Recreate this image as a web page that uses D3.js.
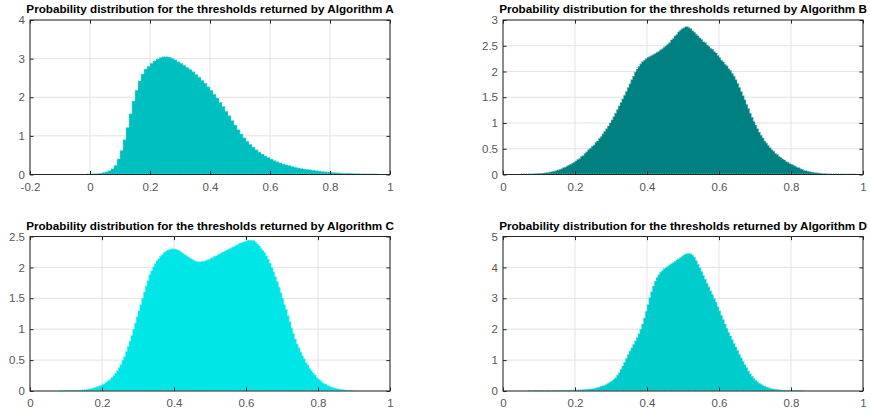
<!DOCTYPE html>
<html>
<head>
<meta charset="utf-8">
<script src="https://cdn.jsdelivr.net/npm/d3@7"></script>
<style>
  body { margin: 0; background: #fff; }
  text { font-family: "Liberation Sans", Arial, Helvetica, sans-serif; }
</style>
</head>
<body>
<div id="chart"></div>
<script>
// histogram data (first left edge + bin width per panel)
const titles = [
  "Probability distribution for the thresholds returned by Algorithm A",
  "Probability distribution for the thresholds returned by Algorithm B",
  "Probability distribution for the thresholds returned by Algorithm C",
  "Probability distribution for the thresholds returned by Algorithm D"
];

const startA = -0.01, binA = 0.01;
const densityA = [
  0.01, 0.01, 0.02, 0.02, 0.03, 0.05, 0.07, 0.10, 0.15, 0.24,
  0.40, 0.62, 0.90, 1.22, 1.57, 1.90, 2.18, 2.42, 2.60, 2.73,
  2.80, 2.88, 2.94, 2.99, 3.03, 3.05, 3.05, 3.04, 3.01, 2.97,
  2.92, 2.88, 2.83, 2.77, 2.72, 2.66, 2.59, 2.52, 2.44, 2.36,
  2.27, 2.18, 2.08, 1.98, 1.87, 1.76, 1.64, 1.52, 1.40, 1.28,
  1.16, 1.05, 0.95, 0.86, 0.78, 0.71, 0.64, 0.58, 0.53, 0.48,
  0.44, 0.40, 0.36, 0.33, 0.30, 0.27, 0.25, 0.23, 0.21, 0.19,
  0.17, 0.155, 0.14, 0.13, 0.12, 0.11, 0.10, 0.09, 0.08, 0.07,
  0.065, 0.06, 0.05, 0.045, 0.04, 0.035, 0.03, 0.03, 0.025, 0.02,
  0.02, 0.015, 0.015, 0.01, 0.01, 0.01, 0.01
];

const startB = 0.05, binB = 0.005;
const densityB = [
  0.004, 0.005, 0.007, 0.008, 0.009, 0.011, 0.012, 0.013, 0.015, 0.017,
  0.018, 0.022, 0.027, 0.032, 0.037, 0.043, 0.05, 0.058, 0.065, 0.075,
  0.085, 0.095, 0.11, 0.13, 0.14, 0.16, 0.18, 0.20, 0.22, 0.24,
  0.26, 0.29, 0.31, 0.35, 0.37, 0.41, 0.44, 0.48, 0.51, 0.55,
  0.57, 0.62, 0.65, 0.70, 0.74, 0.79, 0.84, 0.89, 0.94, 1.00,
  1.06, 1.12, 1.19, 1.26, 1.33, 1.40, 1.47, 1.54, 1.61, 1.69,
  1.76, 1.84, 1.91, 1.99, 2.05, 2.10, 2.15, 2.19, 2.22, 2.25,
  2.27, 2.29, 2.31, 2.33, 2.35, 2.37, 2.39, 2.42, 2.44, 2.47,
  2.50, 2.53, 2.56, 2.61, 2.64, 2.69, 2.72, 2.77, 2.80, 2.83,
  2.85, 2.87, 2.87, 2.85, 2.83, 2.79, 2.76, 2.72, 2.69, 2.65,
  2.62, 2.58, 2.56, 2.52, 2.49, 2.45, 2.43, 2.39, 2.36, 2.31,
  2.27, 2.22, 2.19, 2.14, 2.11, 2.06, 2.02, 1.96, 1.91, 1.84,
  1.77, 1.69, 1.61, 1.53, 1.45, 1.36, 1.28, 1.19, 1.11, 1.03,
  0.96, 0.89, 0.82, 0.76, 0.71, 0.65, 0.61, 0.56, 0.52, 0.48,
  0.45, 0.41, 0.39, 0.35, 0.33, 0.30, 0.28, 0.25, 0.24, 0.21,
  0.20, 0.18, 0.16, 0.14, 0.13, 0.11, 0.10, 0.08, 0.075, 0.065,
  0.055, 0.048, 0.042, 0.036, 0.032, 0.027, 0.023, 0.019, 0.016, 0.014,
  0.012, 0.01, 0.009, 0.008, 0.007, 0.006, 0.005, 0.005, 0.004, 0.004,
  0.003, 0.003, 0.003, 0.002, 0.002, 0.002
];

const startC = 0.08, binC = 0.005;
const densityC = [
  0.003, 0.003, 0.004, 0.004,
  0.005, 0.005, 0.006, 0.007, 0.009, 0.010, 0.012, 0.014, 0.016, 0.019,
  0.022, 0.026, 0.031, 0.037, 0.044, 0.052, 0.062, 0.072, 0.083, 0.095,
  0.11, 0.125, 0.145, 0.17, 0.19, 0.22, 0.25, 0.29, 0.33, 0.38,
  0.43, 0.50, 0.56, 0.64, 0.72, 0.81, 0.90, 1.00, 1.10, 1.20,
  1.30, 1.40, 1.50, 1.60, 1.70, 1.79, 1.88, 1.94, 2.01, 2.06,
  2.11, 2.14, 2.18, 2.21, 2.24, 2.26, 2.28, 2.29, 2.30, 2.30,
  2.30, 2.29, 2.28, 2.26, 2.24, 2.22, 2.20, 2.18, 2.16, 2.14,
  2.13, 2.11, 2.10, 2.09, 2.09, 2.10, 2.10, 2.11, 2.12, 2.13,
  2.15, 2.16, 2.18, 2.19, 2.21, 2.22, 2.24, 2.25, 2.27, 2.28,
  2.30, 2.31, 2.33, 2.34, 2.36, 2.37, 2.39, 2.40, 2.41, 2.42,
  2.43, 2.44, 2.44, 2.44, 2.43, 2.41, 2.38, 2.35, 2.31, 2.27,
  2.24, 2.19, 2.13, 2.07, 2.00, 1.93, 1.85, 1.77, 1.68, 1.59,
  1.50, 1.40, 1.32, 1.22, 1.12, 1.02, 0.93, 0.84, 0.76, 0.70,
  0.63, 0.57, 0.52, 0.46, 0.42, 0.37, 0.33, 0.29, 0.26, 0.22,
  0.19, 0.17, 0.14, 0.12, 0.11, 0.09, 0.08, 0.065, 0.055, 0.046,
  0.04, 0.034, 0.028, 0.024, 0.019, 0.016, 0.013, 0.01, 0.008, 0.006,
  0.004
];

const startD = 0.07, binD = 0.005;
const densityD = [
  0.003, 0.003, 0.004, 0.004, 0.005, 0.005,
  0.006, 0.006, 0.007, 0.007, 0.008, 0.008, 0.009, 0.010, 0.011, 0.012,
  0.013, 0.014, 0.015, 0.017, 0.019, 0.021, 0.023, 0.025, 0.028, 0.031,
  0.034, 0.036, 0.039, 0.042, 0.047, 0.052, 0.057, 0.062, 0.068, 0.075,
  0.083, 0.095, 0.11, 0.13, 0.15, 0.17, 0.19, 0.22, 0.25, 0.29,
  0.33, 0.38, 0.43, 0.51, 0.59, 0.70, 0.81, 0.93, 1.05, 1.18,
  1.30, 1.40, 1.51, 1.62, 1.73, 1.86, 2.00, 2.17, 2.36, 2.58,
  2.80, 3.02, 3.22, 3.40, 3.55, 3.67, 3.76, 3.84, 3.90, 3.96,
  4.00, 4.04, 4.08, 4.12, 4.16, 4.20, 4.24, 4.28, 4.32, 4.36,
  4.40, 4.43, 4.45, 4.45, 4.44, 4.40, 4.33, 4.22, 4.10, 3.99,
  3.87, 3.74, 3.62, 3.49, 3.37, 3.24, 3.12, 3.00, 2.87, 2.73,
  2.59, 2.45, 2.31, 2.17, 2.03, 1.90, 1.78, 1.66, 1.54, 1.42,
  1.31, 1.19, 1.08, 0.96, 0.85, 0.75, 0.65, 0.56, 0.48, 0.41,
  0.35, 0.30, 0.25, 0.22, 0.18, 0.16, 0.13, 0.11, 0.09, 0.075,
  0.065, 0.055, 0.048, 0.042, 0.035, 0.028, 0.023, 0.019, 0.016, 0.014,
  0.012, 0.010, 0.009, 0.008, 0.006, 0.005, 0.004
];

// tick labels
const xTicksA = [-0.2, 0, 0.2, 0.4, 0.6, 0.8, 1];
const xTicks = [0, 0.2, 0.4, 0.6, 0.8, 1];
const yTicksA = [0, 1, 2, 3, 4];
const yTicksB = [0, 0.5, 1, 1.5, 2, 2.5, 3];
const yTicksC = [0, 0.5, 1, 1.5, 2, 2.5];
const yTicksD = [0, 1, 2, 3, 4, 5];

// layout
const W = 870, H = 414;
const svg = d3.select("#chart").append("svg")
    .attr("width", W)
    .attr("height", H);

const panels = [
  { title: titles[0], start: startA, bin: binA, values: densityA, color: "#00bfbf",
    xTicks: xTicksA, yTicks: yTicksA, left: 30, top: 20 },
  { title: titles[1], start: startB, bin: binB, values: densityB, color: "#008080",
    xTicks: xTicks, yTicks: yTicksB, left: 503, top: 20 },
  { title: titles[2], start: startC, bin: binC, values: densityC, color: "#00e6e6",
    xTicks: xTicks, yTicks: yTicksC, left: 30, top: 236.5 },
  { title: titles[3], start: startD, bin: binD, values: densityD, color: "#00cccc",
    xTicks: xTicks, yTicks: yTicksD, left: 503, top: 236.5 }
];
const pw = 360, ph = 154.5;

panels.forEach(function (p) {
  let g = svg.append("g")
      .attr("transform", "translate(" + p.left + "," + p.top + ")");

  let x = d3.scaleLinear()
      .domain([p.xTicks[0], p.xTicks[p.xTicks.length - 1]])
      .range([0, pw]);
  let y = d3.scaleLinear()
      .domain([p.yTicks[0], p.yTicks[p.yTicks.length - 1]])
      .range([ph, 0]);

  // grid
  g.append("g").selectAll("line")
    .data(p.xTicks)
    .join("line")
      .attr("x1", d => x(d)).attr("x2", d => x(d))
      .attr("y1", 0).attr("y2", ph)
      .attr("stroke", "#e3e3e3");
  g.append("g").selectAll("line")
    .data(p.yTicks)
    .join("line")
      .attr("x1", 0).attr("x2", pw)
      .attr("y1", d => y(d)).attr("y2", d => y(d))
      .attr("stroke", "#e3e3e3");

  // histogram as a step area
  let pts = p.values.map((v, i) => ({ e: p.start + i * p.bin, v: v }));
  pts.push({ e: p.start + p.values.length * p.bin, v: p.values[p.values.length - 1] });

  g.append("path")
    .datum(pts)
    .attr("fill", p.color)
    .attr("d", d3.area()
      .curve(d3.curveStepAfter)
      .x(d => x(d.e))
      .y0(y(0))
      .y1(d => y(d.v)));

  // dotted bar edges
  let edge = d3.interpolateRgb(p.color, "#ffffff")(0.45);
  g.append("path")
    .datum(pts)
    .attr("fill", "none")
    .attr("stroke", edge)
    .attr("stroke-width", 1)
    .attr("stroke-dasharray", "1.2,1.2")
    .attr("d", d3.line()
      .curve(d3.curveStepAfter)
      .x(d => x(d.e))
      .y(d => y(d.v)));
  g.append("line")
    .attr("x1", x(pts[0].e)).attr("x2", x(pts[pts.length - 1].e))
    .attr("y1", y(0) - 0.5).attr("y2", y(0) - 0.5)
    .attr("stroke", edge)
    .attr("stroke-dasharray", "1.2,1.2");

  // axes with inward ticks
  let tickCol = "#262626";
  let fmt = d => String(d);
  let ax = g.append("g")
      .attr("transform", "translate(0," + ph + ")")
      .call(d3.axisBottom(x).tickValues(p.xTicks).tickFormat(fmt)
        .tickSizeInner(-3.6).tickSizeOuter(0).tickPadding(8));
  let ay = g.append("g")
      .call(d3.axisLeft(y).tickValues(p.yTicks).tickFormat(fmt)
        .tickSizeInner(-3.6).tickSizeOuter(0).tickPadding(5));
  let at = g.append("g")
      .call(d3.axisTop(x).tickValues(p.xTicks).tickFormat("")
        .tickSizeInner(-3.6).tickSizeOuter(0));
  let ar = g.append("g")
      .attr("transform", "translate(" + pw + ",0)")
      .call(d3.axisRight(y).tickValues(p.yTicks).tickFormat("")
        .tickSizeInner(-3.6).tickSizeOuter(0));
  [ax, ay, at, ar].forEach(function (a) {
    a.select(".domain").remove();
    a.selectAll("line").attr("stroke", tickCol);
    a.selectAll("text")
      .attr("fill", "#575757")
      .style("font-size", "11.5px")
      .style("font-family", "'Liberation Sans', Arial, sans-serif");
  });

  // box
  g.append("rect")
    .attr("x", 0).attr("y", 0)
    .attr("width", pw).attr("height", ph)
    .attr("fill", "none")
    .attr("stroke", tickCol)
    .attr("stroke-width", 1);

  // title
  g.append("text")
    .attr("x", pw / 2)
    .attr("y", -7)
    .attr("text-anchor", "middle")
    .style("font-size", "11.7px")
    .style("font-weight", "bold")
    .attr("fill", "#000")
    .text(p.title);
});
</script>
</body>
</html>
